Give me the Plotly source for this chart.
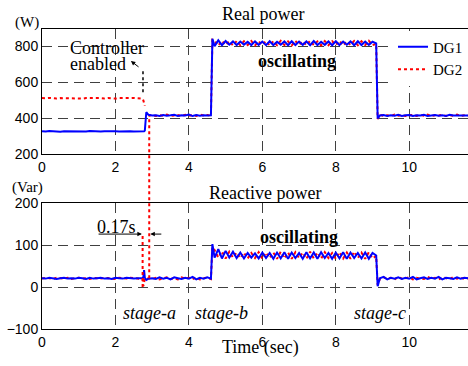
import plotly.graph_objects as go

# ---------------- data ----------------
t_a = [0.0, 0.1, 0.2, 0.3, 0.4, 0.5, 0.6, 0.7, 0.8, 0.9, 1.0, 1.1, 1.2, 1.3,
       1.4, 1.5, 1.6, 1.7, 1.8, 1.9, 2.0, 2.1, 2.2, 2.3, 2.4, 2.5, 2.6, 2.7]
t_b = [2.74, 2.76, 2.78, 2.8, 2.84, 2.9]
t_c = [3.0, 3.1, 3.2, 3.3, 3.4, 3.5, 3.6, 3.7, 3.8, 3.9, 4.0, 4.1, 4.2, 4.3,
       4.4, 4.5, 4.6, 4.64]
t_d = [4.7, 4.8, 4.9, 5.0, 5.1, 5.2, 5.3, 5.4, 5.5, 5.6, 5.7, 5.8, 5.9, 6.0,
       6.1, 6.2, 6.3, 6.4, 6.5, 6.6, 6.7, 6.8, 6.9, 7.0, 7.1, 7.2, 7.3, 7.4,
       7.5, 7.6, 7.7, 7.8, 7.9, 8.0, 8.1, 8.2, 8.3, 8.4, 8.5, 8.6, 8.7, 8.8,
       8.9, 9.0, 9.1, 9.14]
t_e = [9.2, 9.3, 9.4, 9.5, 9.6, 9.7, 9.8, 9.9, 10.0, 10.1, 10.2, 10.3, 10.4,
       10.5, 10.6, 10.7, 10.8, 10.9, 11.0, 11.1, 11.2, 11.3, 11.4, 11.5, 11.6]

# Real power (W)
p_dg1_a = [327, 325, 328, 326, 327, 324, 327, 326, 328, 325, 327, 326, 325, 328,
           326, 327, 325, 327, 328, 326, 327, 325, 326, 328, 327, 325, 326, 324]
p_dg1_b = [325, 324, 326, 330, 432, 418]
p_dg1_c = [414, 416, 412, 417, 413, 415, 418, 412, 416, 414, 419, 411, 417, 413,
           416, 414, 415, 840]
p_dg1_d = [800, 832, 805, 828, 808, 826, 806, 825, 808, 824, 806, 826, 807, 825,
           805, 827, 806, 824, 808, 826, 805, 827, 806, 825, 807, 826, 805, 828,
           806, 824, 807, 826, 805, 827, 806, 825, 808, 826, 805, 827, 806, 825,
           807, 824, 815, 398]
p_dg1_e = [414, 417, 411, 416, 413, 418, 412, 415, 417, 411, 416, 414, 418, 412,
           415, 417, 413, 416, 412, 418, 414, 415, 413, 417, 414]

p_dg2_a = [511, 509, 512, 510, 508, 511, 510, 512, 509, 511, 510, 508, 511, 512,
           509, 510, 511, 509, 512, 510, 508, 511, 510, 513, 511, 512, 510, 509]
p_dg2_b = [508, 498, 480, 468, None, 411]
p_dg2_c = [418, 411, 416, 413, 419, 412, 414, 417, 411, 418, 413, 416, 412, 419,
           414, 417, 412, 835]
p_dg2_d = [830, 803, 829, 806, 827, 804, 828, 805, 827, 806, 828, 804, 826, 807,
           828, 804, 827, 805, 829, 806, 826, 804, 828, 807, 827, 805, 829, 806,
           826, 804, 828, 805, 827, 806, 829, 804, 826, 807, 828, 805, 827, 806,
           829, 805, 812, 395]
p_dg2_e = [418, 412, 416, 411, 419, 413, 417, 411, 415, 418, 412, 417, 413, 419,
           411, 416, 414, 418, 412, 416, 413, 419, 412, 416, 414]

# Reactive power (Var)
q_dg1_a = [21, 20, 22, 21, 19, 21, 22, 20, 21, 20, 22, 21, 19, 22,
           20, 21, 22, 20, 21, 19, 22, 21, 20, 22, 21, 20, 21, 22]
q_dg1_b = [21, 24, 40, 22, 17, 20]
q_dg1_c = [21, 19, 23, 20, 22, 18, 23, 21, 19, 22, 20, 24, 18, 22,
           20, 23, 20, 102]
q_dg1_d = [70, 90, 68, 86, 70, 84, 69, 82, 68, 81, 70, 80, 68, 82,
           69, 81, 67, 82, 68, 83, 67, 82, 69, 81, 67, 83, 68, 82,
           67, 83, 69, 81, 67, 82, 68, 83, 67, 82, 69, 81, 68, 82,
           67, 81, 75, 2]
q_dg1_e = [21, 24, 18, 22, 20, 23, 19, 22, 20, 24, 18, 21, 23, 19,
           22, 20, 24, 18, 22, 21, 19, 23, 20, 22, 21]

q_dg2_a = [20, 22, 21, 19, 22, 21, 20, 22, 19, 21, 22, 20, 21, 19,
           22, 21, 20, 22, 21, 20, 19, 22, 21, 20, 22, 21, 20, 19]
q_dg2_b = [19, 2, 12, 20, 21, 20]
q_dg2_c = [19, 22, 18, 21, 23, 19, 21, 18, 23, 20, 22, 19, 23, 18,
           21, 22, 19, 95]
q_dg2_d = [88, 70, 85, 68, 84, 70, 82, 69, 82, 68, 81, 69, 83, 67,
           82, 69, 82, 67, 84, 68, 82, 67, 83, 69, 82, 67, 84, 68,
           82, 67, 83, 69, 81, 67, 83, 68, 82, 67, 84, 69, 82, 67,
           83, 68, 74, 5]
q_dg2_e = [19, 23, 20, 22, 18, 24, 20, 21, 23, 18, 22, 20, 19, 24,
           20, 22, 18, 23, 21, 19, 24, 20, 22, 19, 21]

x_ticks = [0, 2, 4, 6, 8, 10]
p_ticks = [200, 400, 600, 800]
q_ticks = [-100, 0, 100, 200]

t = t_a + t_b + t_c + t_d + t_e
p_dg1 = p_dg1_a + p_dg1_b + p_dg1_c + p_dg1_d + p_dg1_e
p_dg2 = p_dg2_a + p_dg2_b + p_dg2_c + p_dg2_d + p_dg2_e
q_dg1 = q_dg1_a + q_dg1_b + q_dg1_c + q_dg1_d + q_dg1_e
q_dg2 = q_dg2_a + q_dg2_b + q_dg2_c + q_dg2_d + q_dg2_e

# ---------------- styling ----------------
SERIF = "Liberation Serif"
SANS = "Liberation Sans"
BLUE = "#0000FF"
RED = "#FF0000"
X_RANGE = [0, 11.6]
P_RANGE = [200, 895]
Q_RANGE = [-100, 200]
P_DOM = [0.5833, 1.0]
Q_DOM = [0.0, 0.42]

fig = go.Figure()
fig.add_trace(go.Scatter(x=t, y=p_dg2, name="DG2", mode="lines", xaxis="x", yaxis="y",
                         line=dict(color=RED, width=2, dash="dot"), connectgaps=False))
fig.add_trace(go.Scatter(x=t, y=p_dg1, name="DG1", mode="lines", xaxis="x", yaxis="y",
                         line=dict(color=BLUE, width=2)))
fig.add_trace(go.Scatter(x=t, y=q_dg2, name="DG2", mode="lines", xaxis="x2", yaxis="y2",
                         line=dict(color=RED, width=2, dash="dot"), showlegend=False))
fig.add_trace(go.Scatter(x=t, y=q_dg1, name="DG1", mode="lines", xaxis="x2", yaxis="y2",
                         line=dict(color=BLUE, width=2), showlegend=False))

axis_common = dict(showline=True, linecolor="black", linewidth=1, mirror=True,
                   showgrid=True, gridcolor="#404040", gridwidth=1, griddash="10px,6px",
                   zeroline=False, ticks="", tickfont=dict(family=SANS, size=14, color="black"))

fig.update_layout(
    width=468, height=366,
    margin=dict(l=42, r=0, t=29, b=37, autoexpand=False),
    paper_bgcolor="white", plot_bgcolor="white",
    font=dict(family=SERIF, color="black"),
    xaxis=dict(domain=[0, 1], anchor="y", range=X_RANGE, tickvals=x_ticks, **axis_common),
    yaxis=dict(domain=P_DOM, anchor="x", range=P_RANGE, tickvals=p_ticks, **axis_common),
    xaxis2=dict(domain=[0, 1], anchor="y2", range=X_RANGE, tickvals=x_ticks, **axis_common),
    yaxis2=dict(domain=Q_DOM, anchor="x2", range=Q_RANGE, tickvals=q_ticks, **axis_common),
    legend=dict(x=1.0, y=0.995, xanchor="right", yanchor="top", bgcolor="white",
                borderwidth=0, font=dict(family=SERIF, size=15, color="black"),
                traceorder="reversed", itemwidth=30, tracegroupgap=0),
    showlegend=True,
)


def p_to_paper(v):
    return P_DOM[0] + (v - P_RANGE[0]) / (P_RANGE[1] - P_RANGE[0]) * (P_DOM[1] - P_DOM[0])


def q_to_paper(v):
    return Q_DOM[0] + (v - Q_RANGE[0]) / (Q_RANGE[1] - Q_RANGE[0]) * (Q_DOM[1] - Q_DOM[0])


shapes = [
    dict(type="line", xref="x2", yref="y2", x0=2.74, x1=2.74, y0=0, y1=128,
         line=dict(color=RED, width=2, dash="dot")),
    dict(type="line", xref="x", yref="paper", x0=2.92, x1=2.92,
         y0=q_to_paper(21), y1=p_to_paper(410),
         line=dict(color=RED, width=2, dash="dot")),
    dict(type="line", xref="x", yref="y", x0=2.75, x1=2.75, y0=544, y1=667,
         line=dict(color="black", width=1.5, dash="dot")),
]

annotations = [
    dict(text="Real power", xref="paper", yref="paper", x=0.519, y=1.05,
         showarrow=False, font=dict(size=18), xanchor="center", yanchor="middle"),
    dict(text="Reactive power", xref="paper", yref="paper", x=0.523, y=0.4533,
         showarrow=False, font=dict(size=18), xanchor="center", yanchor="middle"),
    dict(text="(W)", xref="paper", yref="paper", x=-0.0352, y=1.0233,
         showarrow=False, font=dict(size=15), xanchor="center", yanchor="middle"),
    dict(text="(Var)", xref="paper", yref="paper", x=-0.0352, y=0.4733,
         showarrow=False, font=dict(size=15), xanchor="center", yanchor="middle"),
    dict(text="Time (sec)", xref="paper", yref="paper", x=0.514, y=-0.062,
         showarrow=False, font=dict(size=18), xanchor="center", yanchor="middle"),
    dict(text="Controller", xref="x", yref="y", x=0.71, y=789, showarrow=False,
         font=dict(size=18), xanchor="left", yanchor="middle"),
    dict(text="enabled", xref="x", yref="y", x=0.71, y=700, showarrow=False,
         font=dict(size=18), xanchor="left", yanchor="middle"),
    dict(text="", xref="x", yref="y", x=2.42, y=717, axref="x", ayref="y",
         ax=2.67, ay=678, showarrow=True, arrowhead=2, arrowsize=0.9, arrowwidth=1,
         arrowcolor="black"),
    dict(text="<b>oscillating</b>", xref="x", yref="y", x=6.95, y=715, showarrow=False,
         font=dict(size=18), xanchor="center", yanchor="middle"),
    dict(text="<b>oscillating</b>", xref="x2", yref="y2", x=7.0, y=119, showarrow=False,
         font=dict(size=18), xanchor="center", yanchor="middle"),
    dict(text="0.17s", xref="x2", yref="y2", x=2.04, y=143, showarrow=False,
         font=dict(size=18), xanchor="center", yanchor="middle"),
    dict(text="", xref="x2", yref="y2", x=2.72, y=126, axref="x2", ayref="y2",
         ax=1.5, ay=126, showarrow=True, arrowhead=2, arrowsize=0.9, arrowwidth=1,
         arrowcolor="black"),
    dict(text="", xref="x2", yref="y2", x=2.95, y=126, axref="x2", ayref="y2",
         ax=3.29, ay=126, showarrow=True, arrowhead=2, arrowsize=0.9, arrowwidth=1,
         arrowcolor="black"),
    dict(text="<i>stage-a</i>", xref="x2", yref="y2", x=2.92, y=-62, showarrow=False,
         font=dict(size=18), xanchor="center", yanchor="middle"),
    dict(text="<i>stage-b</i>", xref="x2", yref="y2", x=4.88, y=-62, showarrow=False,
         font=dict(size=18), xanchor="center", yanchor="middle"),
    dict(text="<i>stage-c</i>", xref="x2", yref="y2", x=9.2, y=-62, showarrow=False,
         font=dict(size=18), xanchor="center", yanchor="middle"),
]

fig.update_layout(shapes=shapes, annotations=annotations)
fig.write_html("out.html")
